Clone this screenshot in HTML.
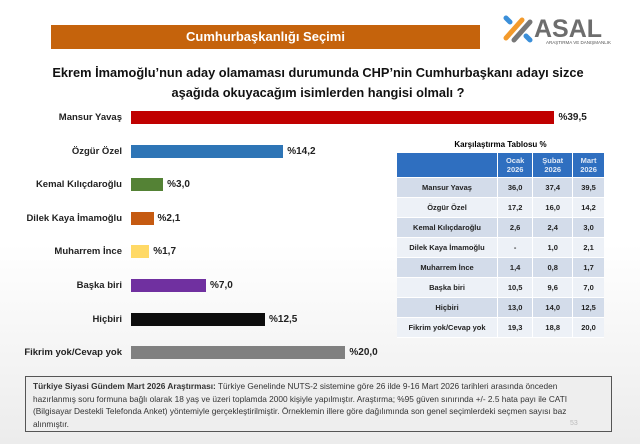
<!DOCTYPE html>
<html><head><meta charset="utf-8"><style>
body{margin:0;width:640px;height:444px;overflow:hidden;background:linear-gradient(#fff 0%,#fff 55%,#ececec 100%);font-family:"Liberation Sans",sans-serif;position:relative}
.banner{position:absolute;left:51px;top:25px;width:429px;height:24px;background:#c5630c;color:#fff;font-weight:bold;font-size:13px;text-align:center;line-height:24px}
.q{position:absolute;left:18px;top:63px;width:600px;text-align:center;font-weight:bold;font-size:12.8px;line-height:20px;color:#111}
.logo{position:absolute;left:500px;top:8px;width:120px;height:40px}
.lab{position:absolute;right:518px;font-size:9.5px;font-weight:bold;color:#222;white-space:nowrap}
.bar{position:absolute;height:13px}
.val{position:absolute;font-size:10px;font-weight:bold;color:#222}
table{position:absolute;left:397px;top:153px;width:207px;border-collapse:collapse;font-size:7.5px;font-weight:bold;color:#222}
td,th{text-align:center;padding:0;height:19px;border-bottom:1px solid #fff}
th{background:#2f6fc0;color:#dfe8f5;height:24px;line-height:9px;border-left:1px solid #fff}
td+td{border-left:1px solid #fff}
tr:nth-child(odd) td{background:#d3dcea}tr:nth-child(even) td{background:#edf1f7}
.tt{position:absolute;left:397px;top:140px;width:207px;text-align:center;font-size:8px;font-weight:bold}
.foot{position:absolute;left:25px;top:376px;width:587px;height:56px;border:1px solid #555;background:#eee;font-size:8.3px;line-height:12.6px;color:#333;padding:3px 40px 0 7px;box-sizing:border-box;overflow:hidden}
</style></head><body>
<div class="banner">Cumhurbaşkanlığı Seçimi</div>
<svg class="logo" viewBox="0 0 120 40">
<g stroke-width="5" stroke-linecap="round"><line x1="6" y1="30" x2="22" y2="12" stroke="#f39a2b"/><line x1="14" y1="32" x2="30" y2="14" stroke="#777"/><line x1="6" y1="10" x2="10" y2="14" stroke="#3b8fd9"/><line x1="26" y1="28" x2="30" y2="32" stroke="#3b8fd9"/></g>
<text x="34" y="29" font-family="Liberation Sans" font-weight="bold" font-size="25" fill="#6d6d6d">ASAL</text>
<text x="46" y="36" font-family="Liberation Sans" font-size="4.5" fill="#555">ARAŞTIRMA VE DANIŞMANLIK</text></svg>
<div class="q">Ekrem İmamoğlu’nun aday olamaması durumunda CHP’nin Cumhurbaşkanı adayı sizce<br>aşağıda okuyacağım isimlerden hangisi olmalı ?</div>
<div id="chart"></div>
<div class="tt">Karşılaştırma Tablosu %</div>
<table><thead><tr><th style="border-left:none"></th><th>Ocak<br>2026</th><th>Şubat<br>2026</th><th>Mart<br>2026</th></tr></thead><tbody id="tb"></tbody></table>
<div class="foot"><b>Türkiye Siyasi Gündem Mart 2026 Araştırması:</b> Türkiye Genelinde NUTS-2 sistemine göre 26 ilde 9-16 Mart 2026 tarihleri arasında önceden hazırlanmış soru formuna bağlı olarak 18 yaş ve üzeri toplamda 2000 kişiyle yapılmıştır. Araştırma; %95 güven sınırında +/- 2.5 hata payı ile CATI (Bilgisayar Destekli Telefonda Anket) yöntemiyle gerçekleştirilmiştir. Örneklemin illere göre dağılımında son genel seçimlerdeki seçmen sayısı baz alınmıştır.</div>
<div style="position:absolute;left:570px;top:420px;color:#bbb;font-size:7px">53</div>
<script>
const categories=["Mansur Yavaş","Özgür Özel","Kemal Kılıçdaroğlu","Dilek Kaya İmamoğlu","Muharrem İnce","Başka biri","Hiçbiri","Fikrim yok/Cevap yok"];
const values=[39.5,14.2,3.0,2.1,1.7,7.0,12.5,20.0];
const colors=["#c00000","#2e75b6","#548235","#c55a11","#ffd966","#7030a0","#0d0d0d","#808080"];
const ocak=["36,0","17,2","2,6","-","1,4","10,5","13,0","19,3"];
const subat=["37,4","16,0","2,4","1,0","0,8","9,6","14,0","18,8"];
const mart=["39,5","14,2","3,0","2,1","1,7","7,0","12,5","20,0"];
const x0=131,sc=10.72,y0=111,step=33.6;
const ch=document.getElementById('chart');
categories.forEach((c,i)=>{
 const y=y0+i*step;
 const l=document.createElement('div');l.className='lab';l.style.top=(y+1)+'px';l.textContent=c;
 
 ch.appendChild(l);
 const b=document.createElement('div');b.className='bar';b.style.left=x0+'px';b.style.top=y+'px';b.style.width=(values[i]*sc)+'px';b.style.background=colors[i];
 
 ch.appendChild(b);
 const v=document.createElement('div');v.className='val';v.style.left=(x0+values[i]*sc+4)+'px';v.style.top=(y+1)+'px';v.textContent='%'+values[i].toFixed(1).replace('.',',');
 
 ch.appendChild(v);
});
const tb=document.getElementById('tb');
categories.forEach((c,i)=>{
 const r=document.createElement('tr');
 
 
 r.innerHTML='<td style="width:100px">'+c+'</td><td>'+ocak[i]+'</td><td>'+subat[i]+'</td><td>'+mart[i]+'</td>';
 tb.appendChild(r);
});
</script>
</body></html>
